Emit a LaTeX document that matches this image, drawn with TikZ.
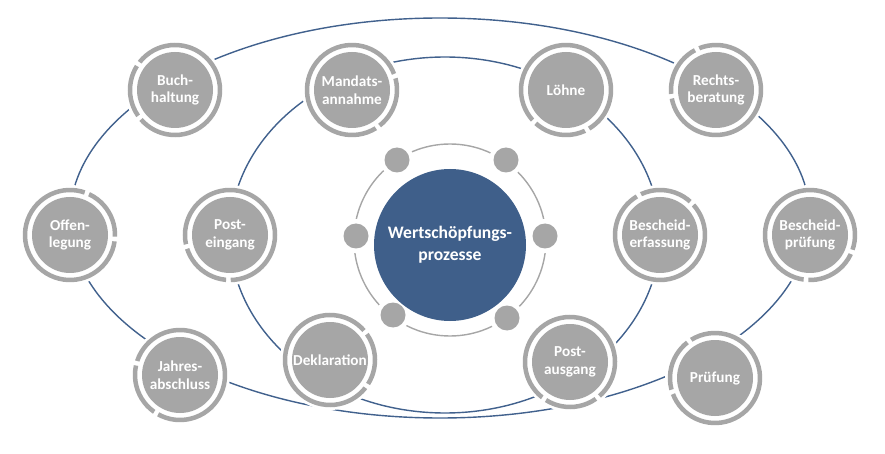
\documentclass[tikz,border=0pt]{standalone}
\usepackage{fontspec}
\setmainfont{Carlito}
\usetikzlibrary{positioning}
\definecolor{procgray}{HTML}{A6A6A6}
\definecolor{coreblue}{HTML}{3F5F8A}
\definecolor{linkblue}{HTML}{41618D}
\tikzset{
  proc/.style={circle,fill=procgray,minimum size=76*0.03cm,inner sep=0pt,
    align=center,text=white,font=\bfseries\fontsize{13}{15}\selectfont},
  procring/.style={draw=procgray,line width=4.5*0.03cm,dash pattern=on 120pt off 4pt on 45pt off 4pt},
  dot/.style={circle,fill=procgray,minimum size=25*0.03cm,inner sep=0pt},
  link/.style={draw=linkblue,line width=1.2pt}
}
\begin{document}
\begin{tikzpicture}[x=0.03cm,y=-0.03cm]

\useasboundingbox (0,0) rectangle (885,454);

\draw[link] (440,218) ellipse [x radius=370,y radius=200];

\draw[link] (445,235) ellipse [x radius=215,y radius=178];

% process circles
\foreach \name/\x/\y/\txt/\rot in {
  buch/175/90/Buch-\\haltung/40,
  mand/352/90/Mandats-\\annahme/200,
  loehne/566/90/Löhne/120,
  recht/716/90/Rechts-\\beratung/10,
  offen/70/235/Offen-\\legung/250,
  post/230/235/Post-\\eingang/90,
  besch/660/235/Bescheid-\\erfassung/300,
  bpruef/810/235/Bescheid-\\prüfung/160,
  jahr/180/375/Jahres-\\abschluss/60,
  dekl/330/360/Deklaration/220,
  paus/570/362/Post-\\ausgang/130,
  pruef/715/378/Prüfung/20}{
  \fill[white] (\x,\y) circle [radius=50];
  \draw[procring,rotate around={\rot:(\x,\y)}] (\x,\y) circle [radius=45];
  \node (\name)[proc] at (\x,\y) {\txt};
}

% core
\draw[procgray,line width=1.2pt] (450,240) circle [radius=96];
\foreach \i/\x/\y in {1/397/160,2/506/160,3/356/236,4/545/236,5/393/315,6/507/318}{
  \fill[white] (\x,\y) circle [radius=17];
  \node (d\i)[dot] at (\x,\y) {};
}
\node (core)[circle,fill=coreblue,minimum size=152*0.03cm,inner sep=0pt,align=center,
  text=white,font=\bfseries\fontsize{15}{19}\selectfont] at (450,245) {Wertschöpfungs-\\prozesse};

\end{tikzpicture}
\end{document}
